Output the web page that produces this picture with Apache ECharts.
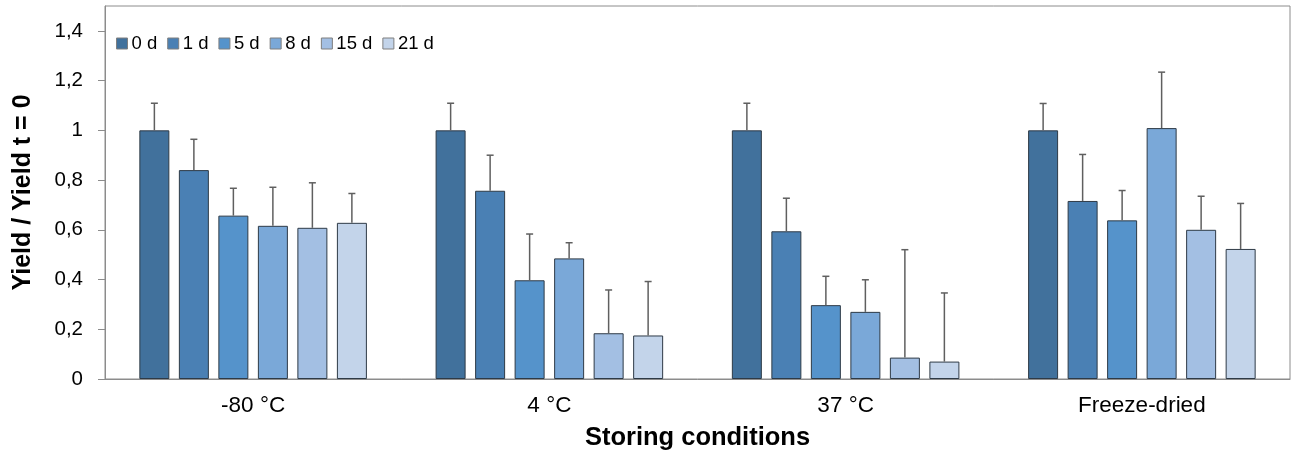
<!DOCTYPE html>
<html>
<head>
<meta charset="utf-8">
<script src="https://cdn.jsdelivr.net/npm/echarts@6/dist/echarts.min.js"></script>
<style>
  html, body { margin: 0; padding: 0; background: #fff; }
  #chart { width: 1294px; height: 456px; }
</style>
</head>
<body>
<div id="chart"></div>
<script>
// storing conditions on the x axis
const categories = ["-80 °C", "4 °C", "37 °C", "Freeze-dried"];
// storage time (legend)
const days = ["0 d", "1 d", "5 d", "8 d", "15 d", "21 d"];
const yTicks = [0, 0.2, 0.4, 0.6, 0.8, 1, 1.2, 1.4];

// relative yield per storage time, one value per category
const yield0d = [1.00, 1.00, 1.00, 1.00];
const yield1d = [0.84, 0.757, 0.594, 0.716];
const yield5d = [0.657, 0.397, 0.297, 0.638];
const yield8d = [0.616, 0.485, 0.270, 1.009];
const yield15d = [0.608, 0.184, 0.086, 0.600];
const yield21d = [0.628, 0.175, 0.070, 0.523];

// standard deviation (upper error bar only)
const err0d = [0.109, 0.109, 0.109, 0.108];
const err1d = [0.124, 0.143, 0.133, 0.187];
const err5d = [0.110, 0.186, 0.116, 0.120];
const err8d = [0.155, 0.063, 0.129, 0.225];
const err15d = [0.181, 0.174, 0.434, 0.135];
const err21d = [0.118, 0.217, 0.276, 0.183];

const valores = [yield0d, yield1d, yield5d, yield8d, yield15d, yield21d];
const errores = [err0d, err1d, err5d, err8d, err15d, err21d];
const colores = ["#41719c", "#4a80b4", "#5593cb", "#7aa8d8", "#a3bfe3", "#c3d4ea"];

const BAR_W = 30;
const BAR_GAP = 9.5;

const chart = echarts.init(document.getElementById("chart"));

const barSeries = days.map((d, i) => ({
  name: d,
  type: "bar",
  data: valores[i],
  barWidth: BAR_W,
  barGap: (BAR_GAP / BAR_W * 100).toFixed(1) + "%",
  itemStyle: { color: colores[i], borderColor: "#2e3a46", borderWidth: 1 },
  z: 2
}));

// error bars drawn through the category axis
const errSeries = days.map((d, i) => ({
  name: d,
  type: "custom",
  data: valores[i].map((v, j) => [j, v, v + errores[i][j]]),
  encode: { x: 0, y: [1, 2] },
  z: 3,
  silent: true,
  renderItem: (params, api) => {
    const offset = (i - (days.length - 1) / 2) * (BAR_W + BAR_GAP);
    const low = api.coord([api.value(0), api.value(1)]);
    const high = api.coord([api.value(0), api.value(2)]);
    const x = low[0] + offset;
    const style = { stroke: "#5f5f5f", lineWidth: 1.5 };
    return {
      type: "group",
      children: [
        { type: "line", shape: { x1: x, y1: low[1], x2: x, y2: high[1] }, style },
        { type: "line", shape: { x1: x - 3.5, y1: high[1], x2: x + 3.5, y2: high[1] }, style }
      ]
    };
  }
}));

const option = {
  backgroundColor: "#fff",
  animation: false,
  textStyle: { fontFamily: "Liberation Sans, Arial, sans-serif" },
  grid: {
    left: 105, right: 4, top: 6, bottom: 77,
    show: true, borderColor: "#8c8c8c", borderWidth: 1
  },
  legend: {
    data: days.map((d, i) => ({ name: d, itemStyle: { color: colores[i], borderColor: "#7f7f7f", borderWidth: 1 } })),
    left: 111, top: 29,
    itemWidth: 11, itemHeight: 11, itemGap: 10,
    icon: "rect",
    textStyle: { fontSize: 18.5, color: "#000", padding: [0, 0, 0, -1] }
  },
  xAxis: {
    type: "category",
    data: categories,
    name: "Storing conditions",
    nameLocation: "middle",
    nameGap: 46,
    nameTextStyle: { fontSize: 25.5, fontWeight: "bold", color: "#000" },
    axisLine: { lineStyle: { color: "#8c8c8c" } },
    axisTick: { show: false },
    axisLabel: { fontSize: 22.5, color: "#000", margin: 15 }
  },
  yAxis: {
    type: "value",
    min: 0,
    max: 1.5,
    name: "Yield / Yield t = 0",
    nameLocation: "middle",
    nameGap: 69,
    nameTextStyle: { fontSize: 25, fontWeight: "bold", color: "#000" },
    axisLine: { show: true, lineStyle: { color: "#8c8c8c" } },
    axisTick: { show: true, inside: false, length: 7, lineStyle: { color: "#8c8c8c" }, customValues: yTicks },
    axisLabel: {
      fontSize: 20.5, color: "#000", margin: 22,
      customValues: yTicks,
      formatter: v => String(Math.round(v * 10) / 10).replace(".", ",")
    },
    splitLine: { show: false }
  },
  series: [...barSeries, ...errSeries]
};

chart.setOption(option);
</script>
</body>
</html>
